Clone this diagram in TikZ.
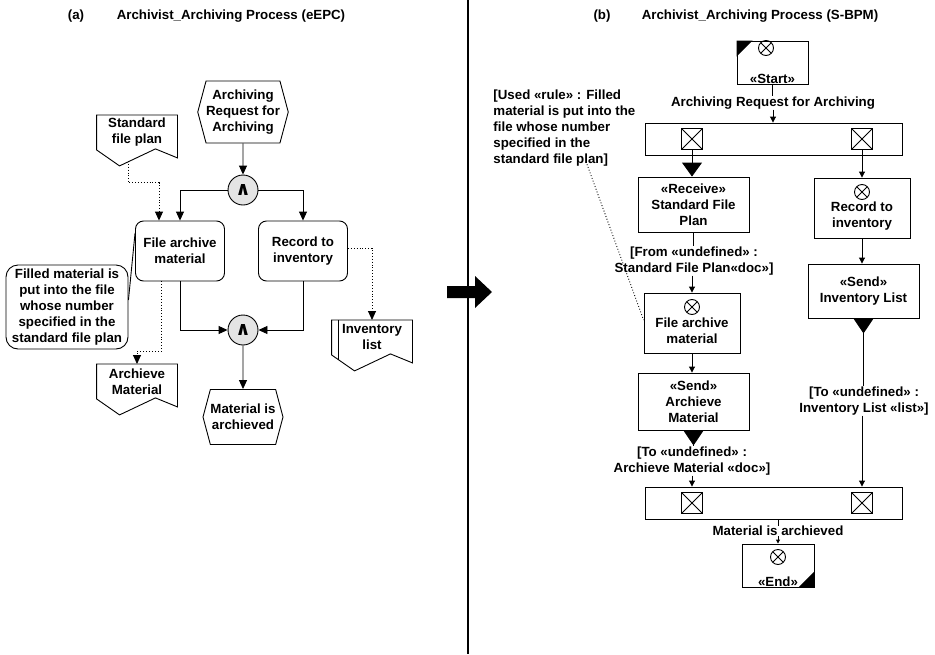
\documentclass[tikz,border=0pt]{standalone}
\usepackage{fontspec}
\setmainfont{Liberation Sans}
\newfontfamily\symfont{DejaVu Sans}
\usepackage{tikz}
\usetikzlibrary{shapes.symbols, arrows.meta, positioning, calc}
\definecolor{andGray}{HTML}{E4E4E4}

\begin{document}
\begin{tikzpicture}[
    x=1pt, y=-1pt,
    line width=0.9pt,
    font=\fontsize{13.3}{16}\selectfont\bfseries,
    every node/.style={align=center, inner sep=1pt},
    event/.style={draw, signal, signal to=east and west, signal pointer angle=150, inner sep=0pt},
    func/.style={draw, rounded corners=8pt, minimum width=89pt, minimum height=60pt},
    andconn/.style={draw, circle, fill=andGray, minimum size=30pt, inner sep=0pt,
        font=\symfont\fontsize{19}{19}\selectfont\bfseries},
    doc/.style={anchor=north, minimum width=80pt, minimum height=34pt, inner sep=0pt},
    remark/.style={draw, rounded corners=12pt, minimum width=122pt, minimum height=84pt},
    flow/.style={-{Triangle[length=9pt,width=8pt]}},
    info/.style={flow, dotted},
    sbox/.style={draw, minimum width=111pt, minimum height=55pt},
    bar/.style={draw, minimum width=257pt, minimum height=32pt},
    xbox/.style={draw, minimum size=21pt, inner sep=0pt, path picture={
        \draw[line width=0.8pt] (path picture bounding box.north west) -- (path picture bounding box.south east)
            (path picture bounding box.south west) -- (path picture bounding box.north east);}},
    xcirc/.style={draw, circle, minimum size=15pt, inner sep=0pt, path picture={
        \draw[line width=0.8pt] (path picture bounding box.north west) -- (path picture bounding box.south east)
            (path picture bounding box.south west) -- (path picture bounding box.north east);}},
    msg/.style={inner sep=0pt},
    sflow/.style={-{Triangle[length=6pt,width=6pt]}},
    tinyflow/.style={-{Triangle[length=4pt,width=4pt]}},
    bigtip/.style={-{Triangle[length=14pt,width=20pt]}},
    sendtip/.style={{Triangle[reversed,length=15pt,width=20pt]}-}
]
    \useasboundingbox (0,0) rectangle (935,654);

    % (a) eEPC
    \node (tia) at (76,16) {(a)};
    \node (tta) at (231,16) {Archivist\_Archiving Process (eEPC)};

    \node[event, minimum width=90pt, minimum height=62pt] (req) at (243,112) {Archiving\\Request for\\Archiving};
    \node[andconn] (and1) at (243,190) {∧};
    \node[func] (fam) at (180,251) {File archive\\material};
    \node[func] (rti) at (303,251) {Record to\\inventory};
    \node[andconn] (and2) at (243,330) {∧};
    \node[event, minimum width=80pt, minimum height=55pt] (done) at (243,417) {Material is\\archieved};

    \node[doc] (sfp) at (137,115) {Standard\\file plan};
    \node[doc] (amat) at (137,364) {Archieve\\Material};
    \node[doc] (invl) at (372,320) {Inventory\\list};
    \node[remark] (rem) at (67,307) {Filled material is\\put into the file\\whose number\\specified in the\\standard file plan};

    \foreach \d in {sfp,amat,invl}
        \draw (\d.north west) -- (\d.north east) -- ([yshift=-8pt]\d.south east)
            -- ([xshift=-22pt,yshift=1pt]\d.south east) -- ([xshift=23pt,yshift=-16pt]\d.south west)
            -- (\d.south west) -- cycle;
    \draw ([xshift=7pt]invl.north west) -- ([xshift=7pt,yshift=-5pt]invl.south west);

    \draw[flow] (req) -- (and1);
    \draw[flow] (and1.west) -| (fam.north);
    \draw[flow] (and1.east) -| (rti.north);
    \draw[flow] (fam.south) |- (and2.west);
    \draw[flow] (rti.south) |- (and2.east);
    \draw[flow] (and2) -- (done);

    \draw[info] ([xshift=-9pt,yshift=-11pt]sfp.south) -- ++(0,22) -| ([xshift=-21pt]fam.north);
    \draw[info] ([xshift=-19pt]fam.south) -- ++(0,70) -| (amat.north);
    \draw[info] ([yshift=3pt]rti.east) -| (invl.north);
    \draw ([yshift=7pt]rem.east) -- ([yshift=18pt]fam.west);

    % divider
    \draw[line width=2pt] (468,0) -- (468,654);
    \fill (447,286) -- (475,286) -- (475,276) -- (492,292) -- (475,308) -- (475,298) -- (447,298) -- cycle;

    % (b) S-BPM
    \node (tib) at (602,16) {(b)};
    \node (ttb) at (760,16) {Archivist\_Archiving Process (S-BPM)};

    \node[draw, minimum width=71pt, minimum height=43pt] (start) at (772.5,62.5) {};
    \node[xcirc] (startx) at (766,48) {};
    \node[anchor=south, inner sep=0pt] (startl) at (start.south) {«Start»};
    \fill (start.north west) -- ++(16,0) -- ++(-16,16) -- cycle;

    \node[msg] (lreq) at (773,103) {Archiving Request for Archiving};
    \node[bar] (bar1) at (773.5,139) {};
    \node[xbox] (xb1a) at (692,139) {};
    \node[xbox] (xb1b) at (862,139) {};
    \draw (start.south) -- (start.south |- lreq.north);
    \draw[sflow] (lreq.south) -- (lreq.south |- bar1.north);

    \node[sbox] (recv) at (693.5,204.5) {«Receive»\\Standard File\\Plan};
    \draw[bigtip] (xb1a.south) -- (xb1a |- recv.north);

    \node[sbox, minimum width=96pt, minimum height=60pt] (rec) at (862,208) {};
    \node[xcirc] (recx) at (862,192) {};
    \node (recl) at (862,216) {Record to\\inventory};
    \draw[sflow] (xb1b.south) -- (rec.north);

    \node[msg] (lfrom) at (694,261) {[From «undefined» :\\Standard File Plan«doc»]};
    \draw (recv.south) -- (recv.south |- lfrom.north);

    \node[sbox, minimum width=96pt, minimum height=60pt] (fam2) at (692,323) {};
    \node[xcirc] (fam2x) at (692,307) {};
    \node (fam2l) at (692,331) {File archive\\material};
    \draw[sflow] (lfrom.south -| fam2) -- (fam2.north);

    \node[anchor=north west, align=left, inner sep=0pt] (rule) at (493,89) {[Used «rule» : Filled\\material is put into the\\file whose number\\specified in the\\standard file plan]};
    \draw[dotted] ([xshift=94pt,yshift=2pt]rule.south west) -- ([yshift=3pt]fam2.west);

    \node[sbox, minimum height=57pt] (sam) at (693.5,401.5) {«Send»\\Archieve\\Material};
    \draw[sflow] (fam2.south) -- (fam2.south |- sam.north);
    \node[msg] (lto1) at (692,461) {[To «undefined» :\\Archieve Material «doc»]};
    \draw[sendtip] (sam.south) -- (sam.south |- lto1.north);

    \node[sbox, minimum height=54pt] (sinv) at (863.5,291) {«Send»\\Inventory List};
    \draw[sflow] (rec.south) -- (rec.south |- sinv.north);
    \node[msg] (lto2) at (864,401) {[To «undefined» :\\Inventory List «list»]};
    \draw[sendtip] (sinv.south) -- (sinv.south |- lto2.north);

    \node[bar] (bar2) at (773.5,503) {};
    \node[xbox] (xb2a) at (692,503) {};
    \node[xbox] (xb2b) at (862,503) {};
    \draw[sflow] (lto1.south -| xb2a) -- (xb2a |- bar2.north);
    \draw[sflow] (lto2.south -| xb2b) -- (xb2b |- bar2.north);

    \node[msg] (lend) at (778,531) {Material is archieved};
    \node[draw, minimum width=72pt, minimum height=43pt] (fin) at (778,565.5) {};
    \node[xcirc] (finx) at (778,557) {};
    \node[anchor=south, inner sep=0pt] (finl) at (fin.south) {«End»};
    \fill (fin.south east) -- ++(-16,0) -- ++(16,-16) -- cycle;
    \draw (bar2.south -| lend) -- (lend.north);
    \draw[tinyflow] (lend.south) -- (lend.south |- fin.north);
\end{tikzpicture}
\end{document}
